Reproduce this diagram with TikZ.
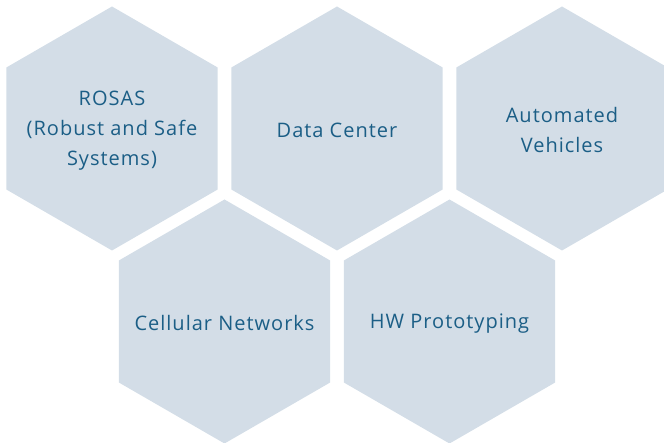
\documentclass[tikz,border=0pt]{standalone}
\usepackage{fontspec}
\setmainfont{Open Sans}[LetterSpace=5]
\usetikzlibrary{shapes.geometric}
\definecolor{hexfill}{HTML}{D3DDE7}
\definecolor{hextext}{HTML}{1B5E86}
\begin{document}
\begin{tikzpicture}[x=1pt,y=-1pt,
  hexcell/.style={regular polygon, regular polygon sides=6, shape border rotate=30,
    minimum size=244pt, inner sep=0pt, outer sep=0pt, fill=hexfill, draw=none},
  hexlabel/.style={text=hextext, align=center, inner sep=0pt,
    font=\fontsize{20}{30}\selectfont}]
\useasboundingbox (0,0) rectangle (664,443);
\node[hexcell] (rosas) at (112,128.5) {};
\node[hexcell] (dc) at (337,128.5) {};
\node[hexcell] (av) at (562,128.5) {};
\node[hexcell] (cell) at (224.5,321.5) {};
\node[hexcell] (hw) at (449.5,321.5) {};
\node[hexlabel] (rosast) at ([yshift=-2pt]rosas.center) {ROSAS\\(Robust and Safe\\Systems)};
\node[hexlabel] (dct) at ([yshift=-2pt]dc.center) {Data Center};
\node[hexlabel] (avt) at ([yshift=-2pt]av.center) {Automated\\Vehicles};
\node[hexlabel] (cellt) at ([yshift=-2pt]cell.center) {Cellular Networks};
\node[hexlabel] (hwt) at ([yshift=-2pt]hw.center) {HW Prototyping};
\end{tikzpicture}
\end{document}
